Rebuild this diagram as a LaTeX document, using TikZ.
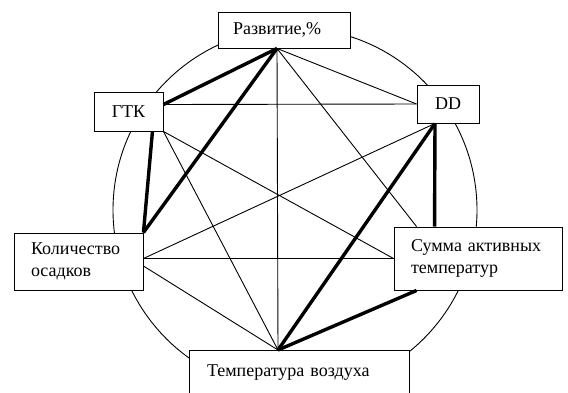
\documentclass[tikz,border=0pt]{standalone}
\usepackage{fontspec}
\setmainfont{Liberation Serif}
\usetikzlibrary{positioning,calc}
\tikzset{
  vnode/.style={rectangle,draw,fill=white,line width=0.9pt,inner sep=2pt,font=\fontsize{18}{22}\selectfont,align=left},
  we/.style={line width=0.9pt},
  se/.style={line width=3.4pt}
}

\begin{document}
\begin{tikzpicture}[x=1pt,y=-1pt]
\useasboundingbox (0,0) rectangle (568,392);
\draw[we] (295,210) circle [radius=182];
\node[vnode,inner xsep=15pt,text width=102pt,minimum height=36pt] (P) at (284,30) {Развитие,\%};
\node[vnode,minimum width=69pt,minimum height=39pt]  (G) at (128.5,111.5) {ГТК};
\node[vnode,minimum width=62pt,minimum height=38pt]  (D) at (448,104)   {DD};
\node[vnode,inner xsep=17pt,text width=95pt,minimum height=57pt]  (K) at (78.5,261.5) {Количество\\осадков};
\node[vnode,inner xsep=17pt,text width=134pt,minimum height=63pt] (S) at (478,258.5) {Сумма активных\\температур};
\node[vnode,anchor=north,inner xsep=18pt,text width=184pt,inner ysep=14pt,text depth=30pt] (T) at (299,350) {Температура воздуха};
% points where the lines meet the boxes
\coordinate (Pb) at ([xshift=-7pt]P.south);
\coordinate (Ge) at ([yshift=7pt]G.east);
\coordinate (Gb) at ([xshift=-11pt]G.south east);
\coordinate (Db) at ([xshift=-13pt]D.south);
\coordinate (Ke) at ([yshift=3pt]K.east);
\coordinate (Kl) at ([yshift=-4.5pt]K.east);
\coordinate (Sa) at ([xshift=23pt]S.north west);
\coordinate (Sb) at ([xshift=41pt]S.north west);
\coordinate (Sc) at ([xshift=23pt]S.south west);
\coordinate (Tt) at ([xshift=-21pt]T.north);
\draw[se] (Pb) -- (Ge);
\draw[we] (Pb) -- (D.west);
\draw[se] (Pb) -- (K.north east);
\draw[we] (Pb) -- (Sa);
\draw[we] (Pb) -- (Tt);
\draw[we] (Ge) -- (D.west);
\draw[se] (Gb) -- (K.north east);
\draw[we] (G.south east) -- (S.west);
\draw[we] (G.south east) -- (Tt);
\draw[we] (Db) -- (Ke);
\draw[se] (Db) -- (Sb);
\draw[se] (Db) -- (Tt);
\draw[we] (Ke) -- (S.west);
\draw[we] (Kl) -- (Tt);
\draw[se] (Sc) -- (Tt);
\end{tikzpicture}
\end{document}
